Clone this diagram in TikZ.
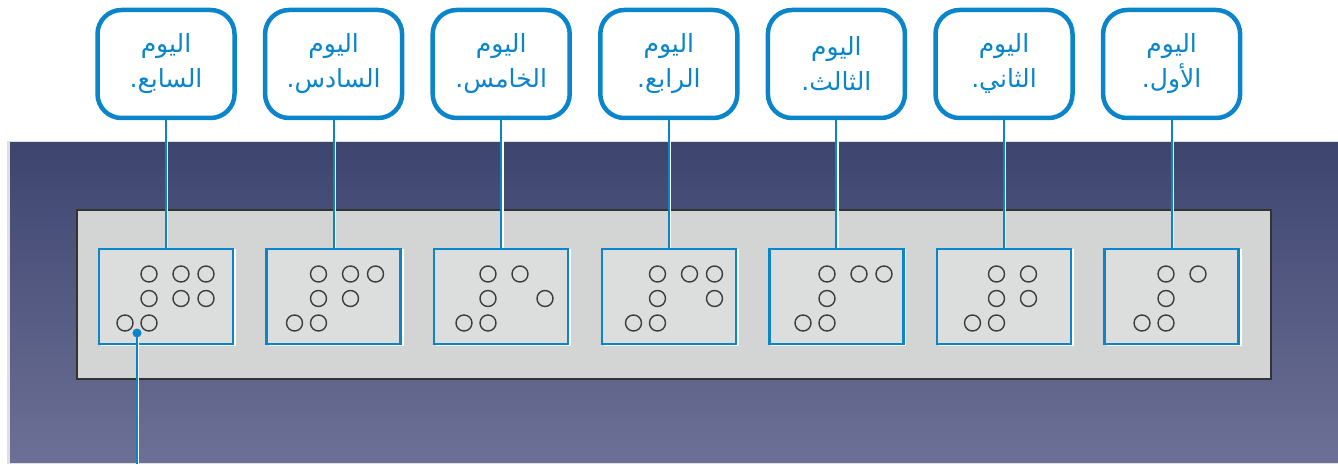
\documentclass[tikz,border=0pt]{standalone}
\usepackage{fontspec}
\newfontfamily\arabicfont[Script=Arabic]{DejaVu Sans}
\TeXXeTstate=1
\usetikzlibrary{positioning, calc}

\definecolor{dayblue}{HTML}{0A85C9}
\definecolor{panelTop}{HTML}{3D456F}
\definecolor{panelBot}{HTML}{6D7096}
\definecolor{stripGrey}{HTML}{D3D4D4}
\definecolor{dotGrey}{HTML}{3C3C3C}

\tikzset{
  daylabel/.style={draw=dayblue, line width=4.5pt, rounded corners=24pt, fill=white,
    minimum width=137pt, minimum height=108pt, inner sep=0pt, align=center,
    text=dayblue, font=\arabicfont\fontsize{25}{35}\selectfont},
  braillecell/.style={draw=dayblue, line width=2.5pt, fill=stripGrey!80!white,
    minimum width=134pt, minimum height=95pt, inner sep=0pt},
  brailledot/.style={draw=dotGrey, line width=1.4pt},
  link/.style={draw=dayblue, line width=2pt}
}

\begin{document}
\begin{tikzpicture}[x=1pt, y=1pt]
    \useasboundingbox (0,0) rectangle (1338,464);

    % Draw the dark panel & the light strip
    \fill[gray!25] (7,0) rectangle (1338,323);
    \shade[top color=panelTop, bottom color=panelBot] (10,2) rectangle (1338,321);
    \draw[fill=stripGrey, draw=black!80, line width=1.5pt] (77,85) rectangle (1271,254);

    % Draw the seven braille cells with their day labels
    \foreach \k/\dayname/\pat in {0/السابع./{1/1,1/2,2/1,2/2}, 1/السادس./{1/1,1/2,2/1},
        2/الخامس./{1/1,2/2}, 3/الرابع./{1/1,2/1,2/2}, 4/الثالث./{1/1,2/1},
        5/الثاني./{1/1,1/2}, 6/الأول./{1/1}} {
      \fill[white] (101+167.6*\k,118) rectangle +(135,97);
      \node[braillecell] (cell\k) at (166+167.6*\k, 167.5) {};
      \node[daylabel] (lbl\k) at (166+167.6*\k, 400)
        {\beginR اليوم\endR\\\beginR \dayname\endR};
      \draw[white, line width=1.5pt] ([xshift=1.7pt]lbl\k.south) -- ([xshift=1.7pt]lbl\k.south |- cell\k.north);
      \draw[link] (lbl\k.south) -- (cell\k.north);
      % number sign, then the digit
      \foreach \r in {1,2,3}
        \draw[brailledot] (149+169.5*\k, 214.5-24.5*\r) circle (8);
      \draw[brailledot] (125+169.5*\k, 141) circle (8);
      \foreach \c/\r in \pat
        \draw[brailledot] (156+169.5*\k+25*\c, 214.5-24.5*\r) circle (8);
    }

    % Draw the pointer to the first dot
    \coordinate (pin) at (137,131);
    \coordinate (pinEnd) at (137,0);
    \draw[white, line width=1.5pt] ([xshift=1.7pt]pin) -- ([xshift=1.7pt]pinEnd);
    \draw[link] (pin) -- (pinEnd);
    \fill[dayblue] (pin) circle (4.5);
\end{tikzpicture}
\end{document}
